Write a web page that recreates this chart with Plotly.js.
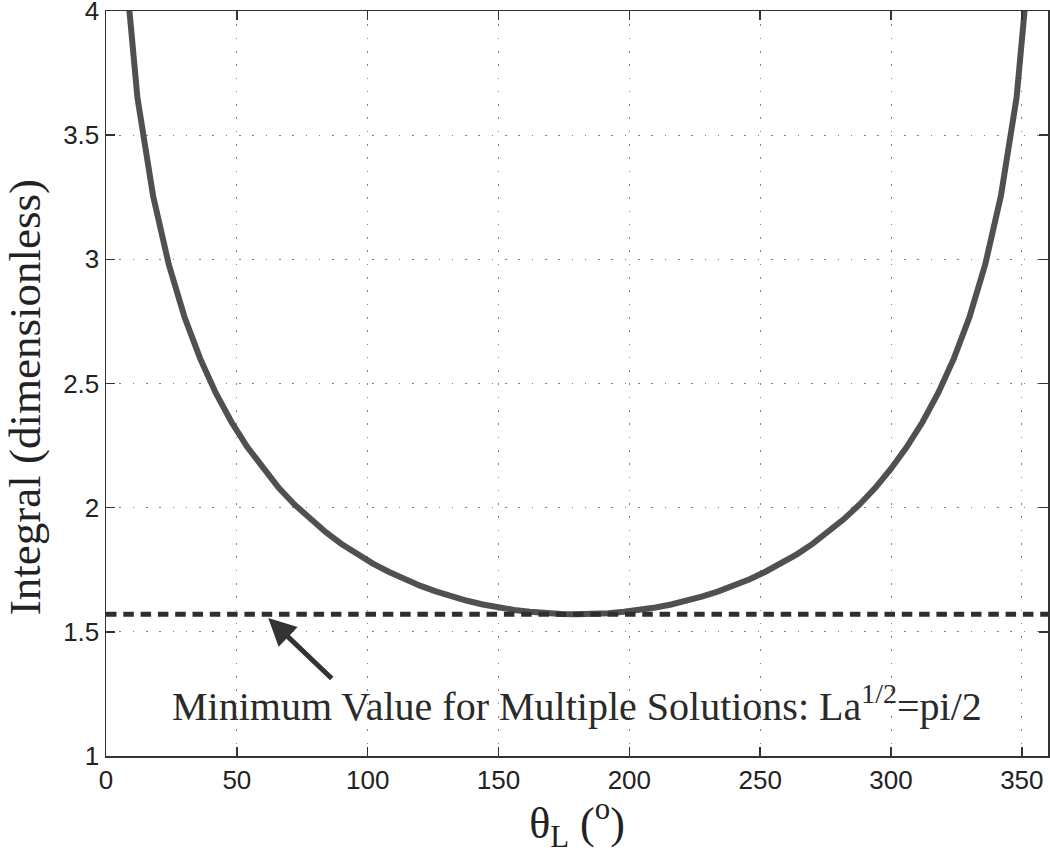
<!DOCTYPE html>
<html>
<head>
<meta charset="utf-8">
<script src="https://cdn.plot.ly/plotly-3.0.1.min.js"></script>
<style>
  html, body { margin: 0; padding: 0; background: #ffffff; }
  #chart { width: 1050px; height: 854px; }
</style>
</head>
<body>
<div id="chart"></div>
<script>
// Curve: integral value vs theta_L (degrees)
const thetaL = [6, 12, 18, 24, 30, 36, 42, 48, 54, 60, 66, 72, 78, 84, 90, 96, 102, 108, 114, 120,
                126, 132, 138, 144, 150, 156, 162, 168, 174, 180,
                186, 192, 198, 204, 210, 216, 222, 228, 234, 240, 246, 252, 258, 264, 270,
                276, 282, 288, 294, 300, 306, 312, 318, 324, 330, 336, 342, 348, 354];
const integralValue = [4.339, 3.652, 3.255, 2.979, 2.768, 2.600, 2.461, 2.344, 2.244, 2.157,
                       2.080, 2.013, 1.954, 1.901, 1.854, 1.812, 1.775, 1.742, 1.712, 1.686,
                       1.663, 1.643, 1.625, 1.610, 1.598, 1.588, 1.581, 1.575, 1.572, 1.571,
                       1.572, 1.575, 1.581, 1.588, 1.598, 1.610, 1.625, 1.643, 1.663, 1.686,
                       1.712, 1.742, 1.775, 1.812, 1.854, 1.901, 1.954, 2.013, 2.080, 2.157,
                       2.244, 2.344, 2.461, 2.600, 2.768, 2.979, 3.255, 3.652, 4.339];

// Horizontal reference line: minimum value pi/2
const minLineX = [0, 360];
const minLineY = [1.5708, 1.5708];

// Tick labels
const xTickVals = [0, 50, 100, 150, 200, 250, 300, 350];
const xTickText = ['0', '50', '100', '150', '200', '250', '300', '350'];
const yTickVals = [1, 1.5, 2, 2.5, 3, 3.5, 4];
const yTickText = ['1', '1.5', '2', '2.5', '3', '3.5', '4'];

const annotationText = 'Minimum Value for Multiple Solutions: La<sup>1/2</sup>=pi/2';
const xTitle = 'θ<sub>L</sub> (<sup>o</sup>)';
const yTitle = 'Integral (dimensionless)';

const serif = 'Liberation Serif, Times New Roman, serif';
const sans = 'Liberation Sans, Arial, sans-serif';

const traces = [
  {
    x: thetaL, y: integralValue, type: 'scatter', mode: 'lines',
    line: { color: '#505050', width: 6 },
    hoverinfo: 'skip', showlegend: false
  },
  {
    x: minLineX, y: minLineY, type: 'scatter', mode: 'lines',
    line: { color: '#2e2e2e', width: 5, dash: '10.5px,6.8px' },
    hoverinfo: 'skip', showlegend: false
  }
];

const axisCommon = {
  showline: true, linecolor: '#333333', linewidth: 1.5, mirror: 'ticks',
  ticks: 'inside', ticklen: 9, tickwidth: 1.5, tickcolor: '#333333',
  showgrid: true, gridcolor: '#808080', gridwidth: 1, griddash: '1.6px,11.7px',
  zeroline: false, tickmode: 'array', ticklabeloverflow: 'allow',
  tickfont: { family: sans, size: 26, color: '#222222' }
};

const layout = {
  width: 1050, height: 854,
  margin: { l: 106, r: 2, t: 11, b: 98 },
  paper_bgcolor: '#ffffff', plot_bgcolor: '#ffffff',
  showlegend: false,
  xaxis: Object.assign({}, axisCommon, {
    range: [0, 360], tickvals: xTickVals, ticktext: xTickText,
    title: { text: xTitle, font: { family: serif, size: 44, color: '#222222' }, standoff: 6 }
  }),
  yaxis: Object.assign({}, axisCommon, {
    range: [1, 4], tickvals: yTickVals, ticktext: yTickText
  }),
  annotations: [
    {
      x: -0.0865, y: 0.481, xref: 'paper', yref: 'paper', xanchor: 'center', yanchor: 'middle',
      text: yTitle, textangle: -90, showarrow: false,
      font: { family: serif, size: 45, color: '#222222' }
    },
    {
      x: 62, y: 1.556, xref: 'x', yref: 'y', text: '',
      showarrow: true, arrowhead: 2, arrowsize: 1.1, arrowwidth: 5, arrowcolor: '#333333',
      ax: 65, ay: 62, axref: 'pixel', ayref: 'pixel'
    },
    {
      x: 180, y: 1.21, xref: 'x', yref: 'y', xanchor: 'center', yanchor: 'middle',
      text: annotationText, showarrow: false,
      font: { family: serif, size: 40, color: '#2a2a2a' }
    }
  ]
};

Plotly.newPlot('chart', traces, layout, { staticPlot: true, displayModeBar: false });
</script>
</body>
</html>
